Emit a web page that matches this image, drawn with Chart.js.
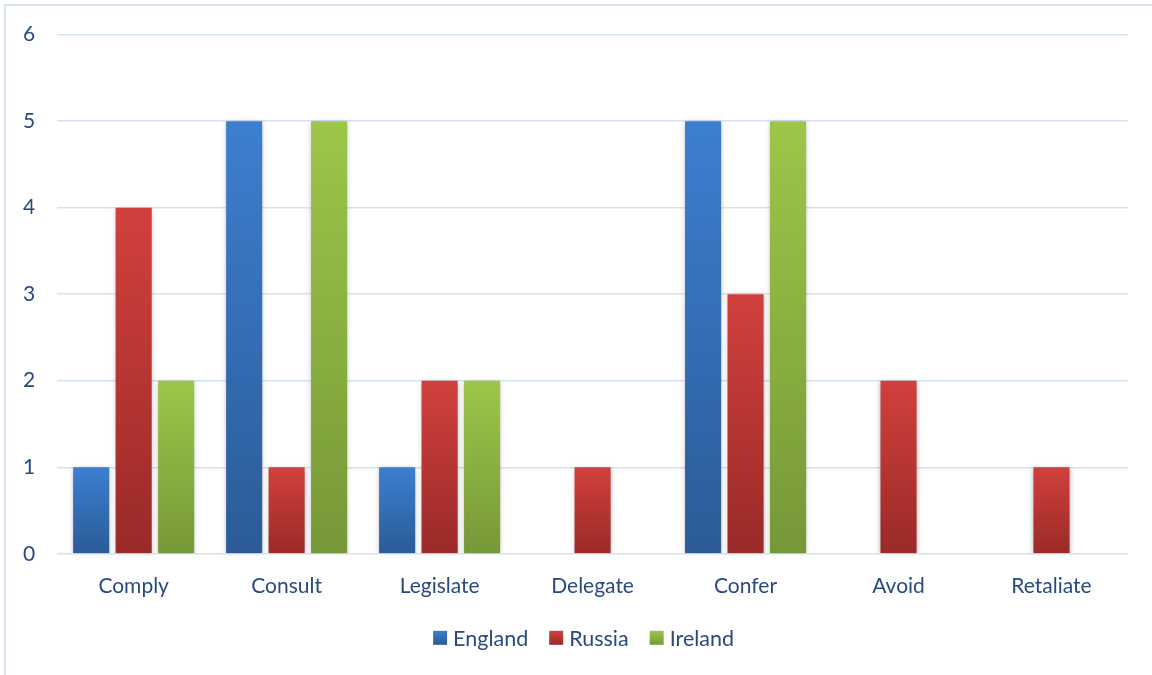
<!DOCTYPE html>
<html>
<head>
<meta charset="utf-8">
<script src="https://cdn.jsdelivr.net/npm/chart.js@4"></script>
<style>
  html, body { margin: 0; padding: 0; background: #fff; }
  #wrap { position: relative; width: 1152px; height: 675px; overflow: hidden; }
  #frame { position: absolute; left: 4px; top: 4px; width: 1200px; height: 700px;
           border-left: 2px solid #d6e3f3; border-top: 2px solid #d6e3f3; }
  canvas { position: absolute; left: 0; top: 0; }
</style>
</head>
<body>
<div id="wrap">
  <div id="frame"></div>
  <canvas id="chart" width="1152" height="675"></canvas>
</div>
<script>
const categories = ["Comply", "Consult", "Legislate", "Delegate", "Confer", "Avoid", "Retaliate"];
const englandValues = [1, 5, 1, 0, 5, 0, 0];
const russiaValues = [4, 1, 2, 1, 3, 2, 1];
const irelandValues = [2, 5, 2, 0, 5, 0, 0];
const yTicks = [0, 1, 2, 3, 4, 5, 6];

const textColor = "#284a80";
const fontFamily = "Lato, 'Open Sans', sans-serif";

function barGradient(top, bottom) {
  return function (context) {
    const chart = context.chart;
    const y = chart.scales && chart.scales.y;
    if (!chart.chartArea || !y || context.raw == null) {
      return top;
    }
    const y0 = y.getPixelForValue(context.raw);
    const y1 = y.getPixelForValue(0);
    const g = chart.ctx.createLinearGradient(0, y0, 0, Math.max(y1, y0 + 1));
    g.addColorStop(0, top);
    g.addColorStop(1, bottom);
    return g;
  };
}

const series = [
  { label: "England", data: englandValues, top: "#3c7fd0", bottom: "#2c5b97" },
  { label: "Russia", data: russiaValues, top: "#d2403d", bottom: "#992a28" },
  { label: "Ireland", data: irelandValues, top: "#9dc649", bottom: "#769838" }
];

const barShadow = {
  id: "barShadow",
  beforeDatasetsDraw(chart) {
    const ctx = chart.ctx;
    ctx.save();
    ctx.shadowColor = "rgba(0, 0, 0, 0.3)";
    ctx.shadowBlur = 5;
    ctx.shadowOffsetX = 0;
    ctx.shadowOffsetY = 1;
  },
  afterDatasetsDraw(chart) {
    chart.ctx.restore();
  }
};

// legend drawn by hand so the box-to-text gap matches the original
const bottomLegend = {
  id: "bottomLegend",
  afterDraw(chart) {
    const ctx = chart.ctx;
    const area = chart.chartArea;
    const box = 14, gap = 6, itemGap = 21;
    ctx.save();
    ctx.font = "21.5px " + fontFamily;
    ctx.textBaseline = "middle";
    const items = chart.data.datasets.map((ds, i) => ({
      text: ds.label,
      top: series[i].top,
      bottom: series[i].bottom,
      w: ctx.measureText(ds.label).width
    }));
    const total = items.reduce((s, it) => s + box + gap + it.w, 0) + itemGap * (items.length - 1);
    let x = (area.left + area.right) / 2 - 9 - total / 2;
    const y = area.bottom + 84;
    items.forEach(it => {
      const g = ctx.createLinearGradient(0, y - box / 2, 0, y + box / 2);
      g.addColorStop(0, it.top);
      g.addColorStop(1, it.bottom);
      ctx.fillStyle = g;
      ctx.fillRect(x, y - box / 2, box, box);
      x += box + gap;
      ctx.fillStyle = textColor;
      ctx.fillText(it.text, x, y + 1);
      x += it.w + itemGap;
    });
    ctx.restore();
  }
};

new Chart(document.getElementById("chart").getContext("2d"), {
  type: "bar",
  data: {
    labels: categories,
    datasets: series.map(s => ({
      label: s.label,
      data: s.data,
      backgroundColor: barGradient(s.top, s.bottom),
      borderWidth: 0,
      categoryPercentage: 0.833,
      barPercentage: 0.85
    }))
  },
  plugins: [barShadow, bottomLegend],
  options: {
    responsive: false,
    animation: false,
    layout: { padding: { left: 1, right: 24, top: 19, bottom: 56 } },
    scales: {
      x: {
        grid: { display: false, drawTicks: false },
        border: { display: false },
        ticks: { color: textColor, font: { family: fontFamily, size: 21 }, padding: 20 }
      },
      y: {
        min: 0,
        max: 6,
        afterBuildTicks(axis) {
          axis.ticks = yTicks.map(v => ({ value: v }));
        },
        grid: { color: "#d5e2f2", lineWidth: 1.5, drawTicks: false },
        border: { display: false },
        ticks: { color: textColor, font: { family: fontFamily, size: 21 }, padding: 22 }
      }
    },
    plugins: {
      tooltip: { enabled: false },
      legend: { display: false }
    }
  }
});
</script>
</body>
</html>
